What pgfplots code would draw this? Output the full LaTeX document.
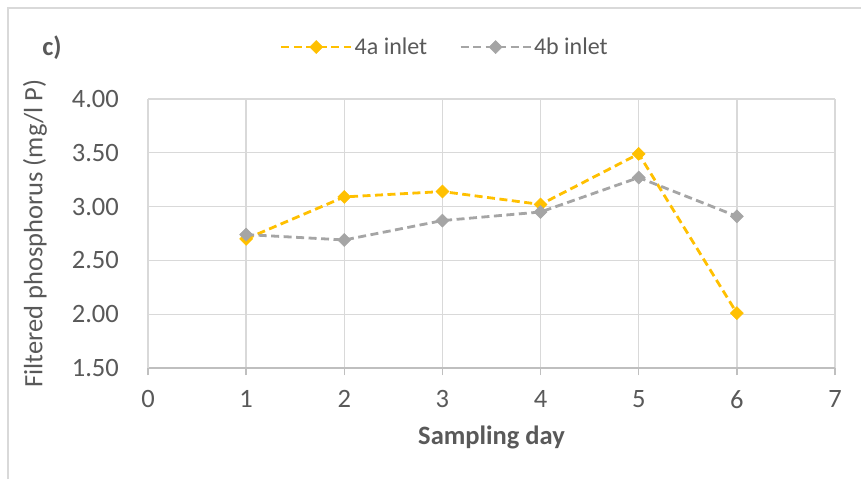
\documentclass[border=0pt]{standalone}
\usepackage{pgfplots}
\pgfplotsset{compat=1.18}
\usepackage{fontspec}
\setmainfont{Carlito}
\definecolor{txt}{HTML}{595959}
\definecolor{gridc}{HTML}{D9D9D9}
\definecolor{axl}{HTML}{BFBFBF}
\definecolor{cA}{HTML}{FFC000}
\definecolor{cB}{HTML}{A5A5A5}
\begin{document}
\begin{tikzpicture}
\useasboundingbox (0,0) rectangle (861pt,479pt);
\fill[white] (0,0) rectangle (861pt,479pt);
\draw[draw=gridc, line width=1.5pt] (8pt,0) -- (8pt,471pt) -- (861pt,471pt);
\node[font=\fontsize{26.5}{30}\selectfont\bfseries, text=txt, anchor=center] at (52pt,431pt) {c)};
\begin{axis}[
  scale only axis, width=687pt, height=269pt,
  at={(148pt,111pt)}, anchor=south west,
  xmin=0, xmax=7, ymin=1.5, ymax=4,
  xtick={0,...,7}, ytick={1.5,2,...,4},
  /pgf/number format/assume math mode=true,
  yticklabel={\pgfmathprintnumber[fixed,fixed zerofill,precision=2]{\tick}},
  xmajorgrids, ymajorgrids,
  major grid style={draw=gridc, line width=1.4pt},
  axis x line*=bottom, axis y line*=left,
  x axis line style={draw=axl, line width=1.5pt, -},
  y axis line style={draw=gridc, line width=1.4pt, -},
  ytick style={draw=none},
  xtick style={draw=axl, line width=1.5pt},
  tick align=outside, major tick length=7pt,
  tick label style={font=\fontsize{26.5}{30}\selectfont, text=txt},
  yticklabel style={anchor=east, inner sep=0pt, xshift=-22pt},
  xticklabel style={anchor=north, inner sep=0pt, yshift=-15pt},
  xlabel={Sampling day},
  ylabel={Filtered phosphorus (mg/l P)},
  label style={text=txt},
  xlabel style={font=\fontsize{26.5}{30}\selectfont\bfseries, at={(axis description cs:0.5,-0.2565)}, anchor=center},
  ylabel style={font=\fontsize{26.5}{30}\selectfont, at={(axis description cs:-0.1645,0.5)}, anchor=center, rotate=0},
  legend columns=2,
  legend style={at={(axis description cs:0.432,1.193)}, anchor=center, draw=none, fill=none,
    font=\fontsize{24}{28}\selectfont, text=txt,
    /tikz/every even column/.append style={column sep=30pt}},
  legend image code/.code={\draw[#1, mark repeat=2, mark phase=2] plot coordinates {(0pt,0pt) (35pt,0pt) (70pt,0pt)};},
  clip=false,
]
\addplot[cA, line width=2.8pt, dash pattern=on 8pt off 4.5pt, mark=square*, mark size=4.6pt, mark options={solid, rotate=45, fill=cA, draw=cA, line width=0.5pt}]
  coordinates {(1,2.70) (2,3.09) (3,3.14) (4,3.02) (5,3.49) (6,2.01)};
\addlegendentry{4a inlet}
\addplot[cB, line width=2.8pt, dash pattern=on 8pt off 4.5pt, mark=square*, mark size=4.6pt, mark options={solid, rotate=45, fill=cB, draw=cB, line width=0.5pt}]
  coordinates {(1,2.74) (2,2.69) (3,2.87) (4,2.95) (5,3.27) (6,2.91)};
\addlegendentry{4b inlet}
\end{axis}
\end{tikzpicture}
\end{document}
